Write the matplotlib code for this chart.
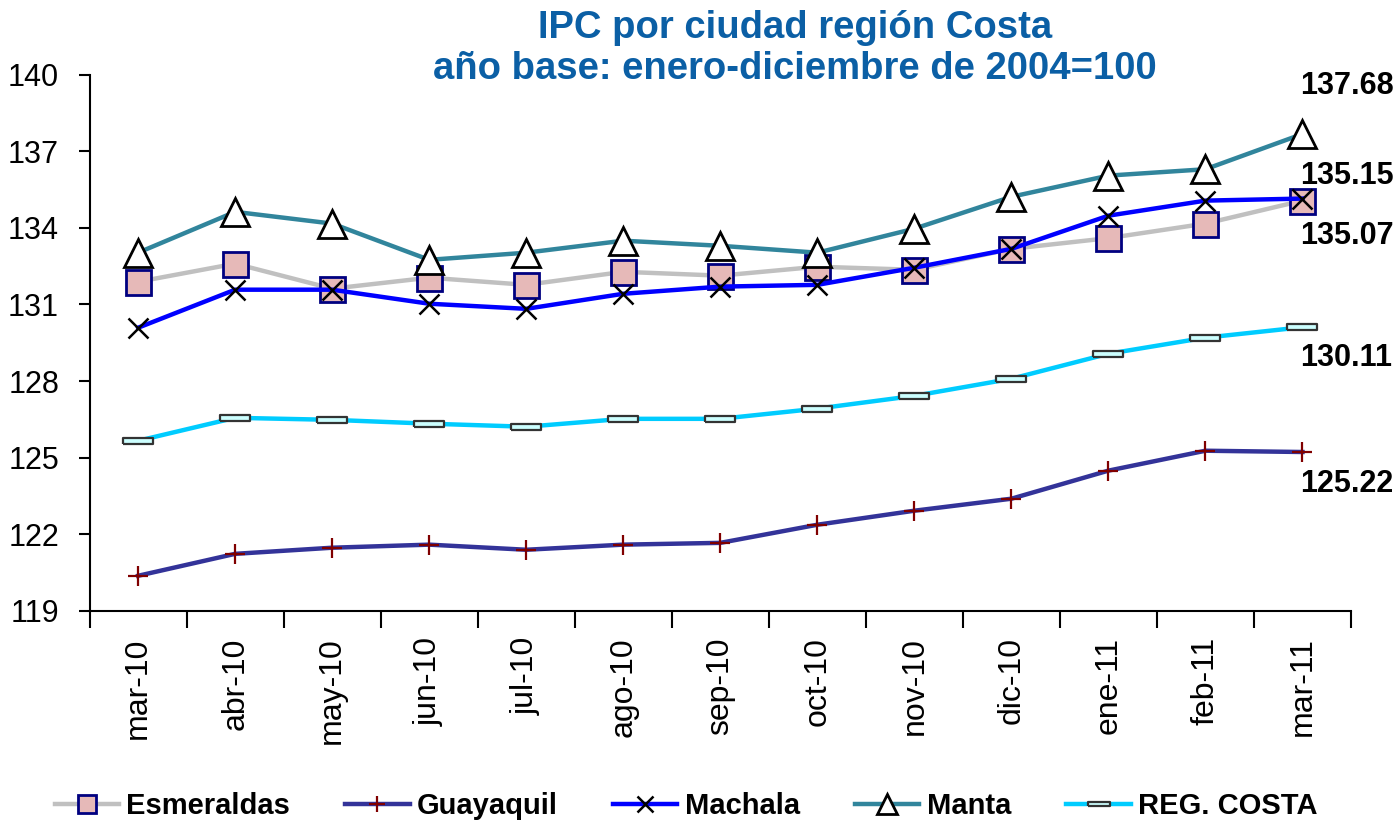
import matplotlib
matplotlib.use("Agg")
import matplotlib.pyplot as plt
from matplotlib.ticker import FixedLocator

plt.rcParams['font.family'] = ['Liberation Sans', 'DejaVu Sans']

meses = ['mar-10', 'abr-10', 'may-10', 'jun-10', 'jul-10', 'ago-10', 'sep-10',
         'oct-10', 'nov-10', 'dic-10', 'ene-11', 'feb-11', 'mar-11']

esmeraldas = [131.89, 132.60, 131.62, 132.05, 131.77, 132.28, 132.13,
              132.48, 132.36, 133.18, 133.60, 134.17, 135.07]
guayaquil = [120.37, 121.23, 121.47, 121.59, 121.39, 121.59, 121.66,
             122.37, 122.92, 123.39, 124.49, 125.27, 125.22]
machala = [130.09, 131.58, 131.58, 131.03, 130.83, 131.42, 131.70,
           131.77, 132.44, 133.18, 134.48, 135.07, 135.15]
manta = [133.03, 134.63, 134.17, 132.75, 133.03, 133.50, 133.30,
         133.03, 133.97, 135.22, 136.05, 136.30, 137.68]
reg_costa = [125.66, 126.56, 126.48, 126.33, 126.21, 126.52, 126.52,
             126.92, 127.42, 128.09, 129.07, 129.70, 130.11]

# etiquetas finales: (texto, y de la etiqueta)
etiquetas = [('137.68', 139.55), ('135.15', 136.05), ('135.07', 133.70),
             ('130.11', 128.90), ('125.22', 123.95)]

rect = [(-1, -0.2), (1, -0.2), (1, 0.2), (-1, 0.2), (-1, -0.2)]

fig = plt.figure(figsize=(14, 8.22), dpi=100)
ax = fig.add_axes([0.064, 0.257, 0.901, 0.652])
x = list(range(len(meses)))

ax.plot(x, esmeraldas, color='#C0C0C0', lw=3.2, marker='s', ms=18,
        mfc='#E6B9B8', mec='#000080', mew=2, label='Esmeraldas', zorder=3)
ax.plot(x, guayaquil, color='#333399', lw=3.2, marker='+', ms=15,
        mec='#800000', mew=1.6, label='Guayaquil', zorder=3)
ax.plot(x, machala, color='#0000FF', lw=3.2, marker='x', ms=15,
        mec='black', mew=1.8, label='Machala', zorder=4)
ax.plot(x, manta, color='#31859C', lw=3.2, marker='^', ms=20,
        mfc='white', mec='black', mew=2, label='Manta', zorder=3)
ax.plot(x, reg_costa, color='#00CCFF', lw=3.2, marker=rect, ms=22,
        mfc='#CCFFFF', mec='#333333', mew=1.6, label='REG. COSTA', zorder=3)

for txt, yv in etiquetas:
    ax.text(11.98, yv, txt, fontsize=22, fontweight='bold', ha='left', va='center')

ax.set_xlim(-0.5, len(meses) - 0.5)
ax.set_ylim(119, 140)
ax.set_yticks(range(119, 141, 3))
ax.xaxis.set_major_locator(FixedLocator([i - 0.5 for i in range(len(meses) + 1)]))
ax.set_xticklabels([])
ax.set_xticks(x, minor=True)
ax.set_xticklabels(meses, minor=True, rotation=90, fontsize=23)
ax.tick_params(axis='x', which='major', length=12, width=1.5, direction='out')
ax.tick_params(axis='x', which='minor', length=0, pad=19)
ax.tick_params(axis='y', length=8, width=1.5, labelsize=22, pad=14)
for s in ['top', 'right']:
    ax.spines[s].set_visible(False)
for s in ['left', 'bottom']:
    ax.spines[s].set_linewidth(1.5)

fig.text(0.568, 0.988, 'IPC por ciudad región Costa\naño base: enero-diciembre de 2004=100',
         ha='center', va='top', fontsize=27.5, fontweight='bold', color='#0B5FA5',
         linespacing=1.2)

fig.legend(loc='lower center', bbox_to_anchor=(0.49, -0.03), ncol=5, frameon=False,
           prop={'size': 21, 'weight': 'bold'}, handlelength=2.2, columnspacing=1.9,
           markerscale=0.75, handletextpad=0.25)

fig.savefig('out.png', dpi=100)
